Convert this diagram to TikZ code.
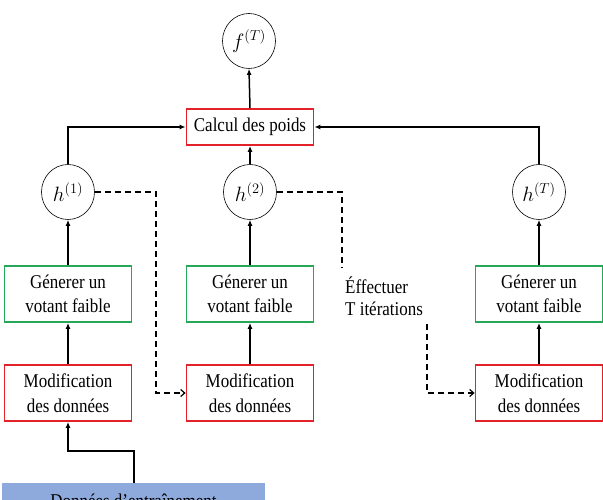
\documentclass[tikz,border=0pt]{standalone}
\usepackage{fontspec}
\setmainfont{Liberation Serif}[FakeStretch=0.87]
\usetikzlibrary{arrows.meta,shapes.geometric}
\definecolor{rred}{RGB}{228,32,40}
\definecolor{ggreen}{RGB}{38,168,88}
\definecolor{bblue}{RGB}{142,169,219}
\tikzset{
  vcirc/.style={draw, line width=0.6pt, ellipse, minimum width=53pt, minimum height=55pt, inner sep=0pt, font=\fontsize{20}{22}\selectfont},
  redbox/.style={draw=rred, line width=1.8pt, minimum width=127pt, minimum height=56pt, align=center, inner sep=2pt, font=\fontsize{19.5}{24.5}\selectfont},
  greenbox/.style={redbox, draw=ggreen},
  conn/.style={line width=1.5pt, -{Latex[length=6pt,width=5pt]}},
  dconn/.style={line width=1.2pt, dash pattern=on 6pt off 4pt, -{Straight Barb[length=4pt,width=7pt]}},
  dline/.style={line width=1.2pt, dash pattern=on 6pt off 4pt}
}
\begin{document}
\begin{tikzpicture}[x=1pt,y=-1pt]
\useasboundingbox (0,0) rectangle (603,500);
\clip (0,0) rectangle (603,500);
% top
\node[vcirc] (f) at (249,41) {$f^{(T)}$};
\node[redbox, minimum height=36pt] (calc) at (250,127) {Calcul des poids};
% h nodes
\node[vcirc] (h1) at (68,192) {$h^{(1)}$};
\node[vcirc] (h2) at (250,192) {$h^{(2)}$};
\node[vcirc] (hT) at (539,192) {$h^{(T)}$};
% generer
\node[greenbox] (g1) at (68,294) {Génerer un\\votant faible};
\node[greenbox] (g2) at (250,294) {Génerer un\\votant faible};
\node[greenbox] (g3) at (539,294) {Génerer un\\votant faible};
% modification
\node[redbox] (m1) at (68,393) {Modification\\des données};
\node[redbox] (m2) at (250,393) {Modification\\des données};
\node[redbox] (m3) at (539,393) {Modification\\des données};
% data
\node[fill=bblue, minimum width=263pt, minimum height=36pt, inner sep=0pt, font=\fontsize{19.5}{22}\selectfont] (data) at (133.5,501) {Données d’entraînement};
% text
\node[align=left, anchor=north west, inner sep=0pt, font=\fontsize{19.5}{22}\selectfont] (txt) at (345,277) {Éffectuer\\T itérations};
% connectors
\draw[conn] (calc.north) -- (f.south);
\draw[conn] (h1.north) |- (calc.west);
\draw[conn] (hT.north) |- (calc.east);
\draw[conn] (h2.north) -- (calc.south);
\draw[conn] (g1.north) -- (h1.south);
\draw[conn] (g2.north) -- (h2.south);
\draw[conn] (g3.north) -- (hT.south);
\draw[conn] (m1.north) -- (g1.south);
\draw[conn] (m2.north) -- (g2.south);
\draw[conn] (m3.north) -- (g3.south);
\coordinate (dtop) at (134,483);
\draw[conn] (dtop) |- (68,451) -- (m1.south);
% dashed
\draw[dconn] (h1.east) -| (156,393) -- (m2.west);
\coordinate (d2end) at (342,268);
\draw[dline] (h2.east) -| (d2end);
\coordinate (d3start) at (427,324);
\draw[dconn] (d3start) |- (m3.west);
\end{tikzpicture}
\end{document}
